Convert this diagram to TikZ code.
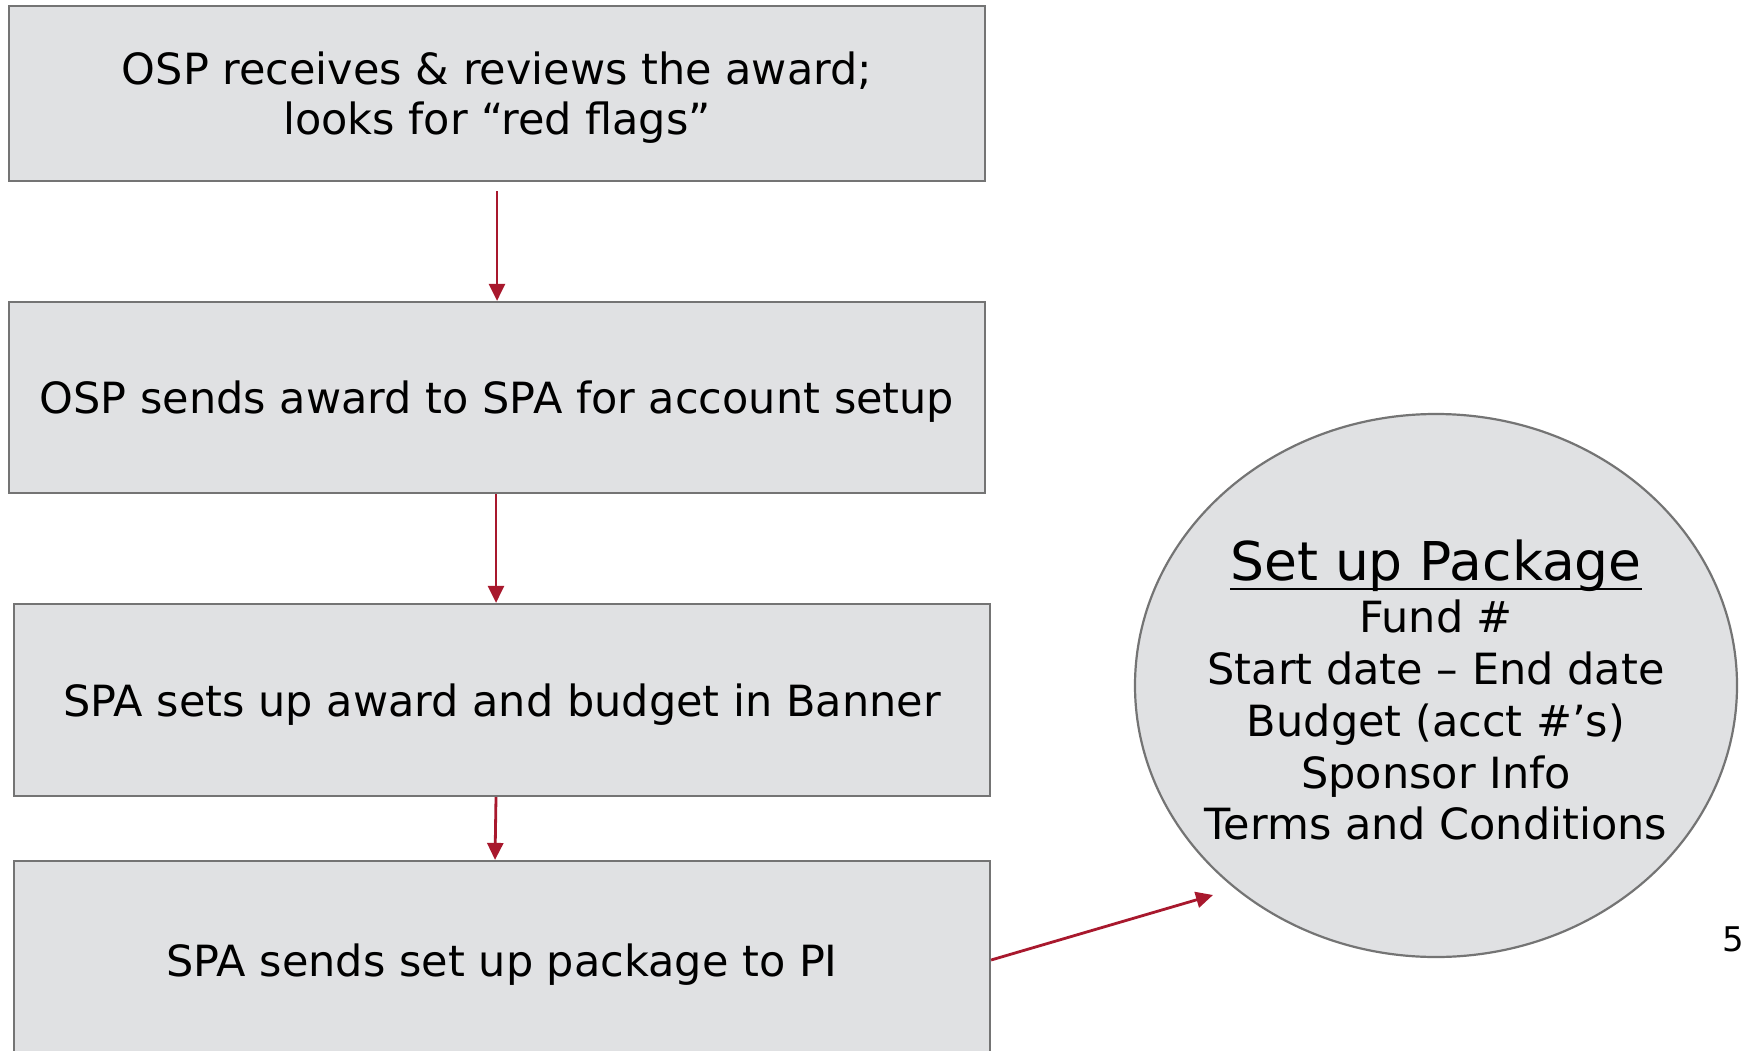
\documentclass[tikz,border=0pt]{standalone}
\usepackage{fontspec}
\setmainfont{DejaVu Sans}
\usetikzlibrary{arrows.meta,shapes.geometric}
\newcommand{\myuline}[1]{\setbox0\hbox{#1}\leavevmode\rlap{\raisebox{-10pt}{\rule{\wd0}{2.6pt}}}\box0}
\definecolor{boxfill}{HTML}{E0E1E3}
\definecolor{boxline}{HTML}{747474}
\definecolor{arrowred}{HTML}{A8182D}
\tikzset{
  stepbox/.style={draw=boxline, line width=2.2pt, fill=boxfill, rectangle, inner sep=0pt,
    minimum width=976pt, align=center, text depth=0pt, font=\fontsize{43}{50}\selectfont},
  flow/.style={draw=arrowred, line width=2.8pt, -{Triangle[length=17pt,width=16pt]}},
}
\begin{document}
\begin{tikzpicture}[x=1pt,y=-1pt]
\useasboundingbox (0,0) rectangle (1745,1051);
\fill[white] (0,0) rectangle (1745,1051);
\node[stepbox, minimum height=175pt] (b1) at (497,93.5) {OSP receives \& reviews the award;\\looks for “red flags”};
\node[stepbox, minimum height=191pt] (b2) at (497,397.5) {OSP sends award to SPA for account setup};
\node[stepbox, minimum height=192pt] (b3) at (502,700) {SPA sets up award and budget in Banner};
\node[stepbox, minimum height=198pt] (b4) at (502,960) {SPA sends set up package to PI};
\node[draw=boxline, line width=2.2pt, fill=boxfill, ellipse, inner sep=0pt,
  minimum width=602pt, minimum height=543pt] (pkg) at (1436,685.5) {};
\node[align=center, inner sep=0pt, font=\fontsize{43}{51.7}\selectfont] (pkgtext) at (1436,690)
  {{\fontsize{53.5}{56}\selectfont\myuline{Set up Package}}\\[1pt]Fund \#\\Start date – End date\\Budget (acct \#’s)\\Sponsor Info\\Terms and Conditions};
\node[font=\fontsize{34}{36}\selectfont, inner sep=0pt] (pnum) at (1733,939) {5};
\coordinate (tip4) at (1213,895);
\draw[flow] ([yshift=-9pt]b1.south) -- (b2.north);
\draw[flow] ([xshift=-1pt]b2.south) -- ([xshift=-6pt]b3.north);
\draw[flow] ([xshift=-6pt]b3.south) -- ([xshift=-7pt]b4.north);
\draw[flow] (b4.east) -- (tip4);
\end{tikzpicture}
\end{document}
